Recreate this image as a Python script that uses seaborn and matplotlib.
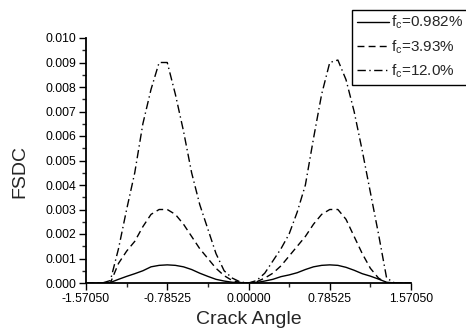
import numpy as np
import pandas as pd
import matplotlib
matplotlib.use("Agg")
import matplotlib.pyplot as plt
import seaborn as sns
from matplotlib.ticker import MultipleLocator

# crack angle grid (rad), step pi/40
angle = np.round(np.linspace(-1.5705, 1.5705, 41), 5)

fsdc_0982 = [0, 0, 0, 0.00002, 0.00015, 0.00027, 0.00038, 0.00050, 0.00066, 0.00072,
             0.00074, 0.00072, 0.00066, 0.00055, 0.00040, 0.00027, 0.00015, 0.00008, 0.00003, 0.00001,
             0,
             0.00002, 0.00008, 0.00015, 0.00026, 0.00033, 0.00042, 0.00055, 0.00066, 0.00072, 0.00074,
             0.00072, 0.00064, 0.00052, 0.00038, 0.00028, 0.00016, 0.00003, 0, 0, 0]
fsdc_393 = [0, 0, 0, 0, 0.0008, 0.0013, 0.0017, 0.0023, 0.0028, 0.0030,
            0.0030, 0.0028, 0.0024, 0.0019, 0.0014, 0.0010, 0.0006, 0.0003, 0.0001, 0.00002,
            0,
            0.00005, 0.0002, 0.0004, 0.0007, 0.0011, 0.0015, 0.0019, 0.0024, 0.0028, 0.0030,
            0.0030, 0.0026, 0.0019, 0.0012, 0.0006, 0.0002, 0, 0, 0, 0]
fsdc_120 = [0, 0, 0, 0.0001, 0.0014, 0.0030, 0.0045, 0.0065, 0.0079, 0.0090,
            0.0090, 0.0077, 0.0062, 0.0045, 0.0032, 0.0022, 0.0012, 0.0005, 0.0002, 0.00004,
            0,
            0.0001, 0.0004, 0.0009, 0.0014, 0.0020, 0.0029, 0.0040, 0.0059, 0.0077, 0.0090,
            0.0091, 0.0083, 0.0070, 0.0054, 0.0037, 0.0020, 0.0002, 0, 0, 0]

labels = [r"$\mathregular{f_c}$=0.982%", r"$\mathregular{f_c}$=3.93%", r"$\mathregular{f_c}$=12.0%"]
xticks = [-1.5705, -0.78525, 0.0, 0.78525, 1.5705]
xticklabels = ["-1.57050", "-0.78525", "0.00000", "0.78525", "1.57050"]
yticks = [0.000, 0.001, 0.002, 0.003, 0.004, 0.005, 0.006, 0.007, 0.008, 0.009, 0.010]

df = pd.DataFrame({
    "angle": np.concatenate([angle, angle, angle]),
    "fsdc": np.concatenate([fsdc_0982, fsdc_393, fsdc_120]),
    "series": [labels[0]] * 41 + [labels[1]] * 41 + [labels[2]] * 41,
})

sns.set_style("ticks")
plt.rcParams["font.family"] = ["Liberation Sans", "DejaVu Sans"]
plt.rcParams["mathtext.fontset"] = "custom"
plt.rcParams["mathtext.rm"] = "Liberation Sans"

fig = plt.figure(figsize=(4.66, 3.29), dpi=100)
ax = fig.add_axes([86 / 466, 1 - 283 / 329, 325 / 466, 245 / 329])

styles = ["-", (0, (5, 3)), (0, (6, 2.5, 1, 2.5))]
for lab, ls in zip(labels, styles):
    sub = df[df["series"] == lab]
    sns.lineplot(data=sub, x="angle", y="fsdc", ax=ax, color="black", lw=1.0,
                 linestyle=ls, label=lab, legend=False)

ax.set_xlim(-1.5705, 1.5705)
ax.set_ylim(0, 0.010)
ax.set_xticks(xticks)
ax.set_xticklabels(xticklabels)
ax.set_yticks(yticks)
ax.set_yticklabels([f"{v:.3f}" for v in yticks])
ax.xaxis.set_minor_locator(MultipleLocator(0.392625))
ax.yaxis.set_minor_locator(MultipleLocator(0.0005))
ax.tick_params(which="major", direction="out", length=5, width=1.0, labelsize=8.8, pad=2, colors="black")
ax.tick_params(which="minor", direction="out", length=3, width=1.0)
for s in ["top", "right"]:
    ax.spines[s].set_visible(False)
for s in ["left", "bottom"]:
    ax.spines[s].set_linewidth(1.3)
    ax.spines[s].set_color("black")

ax.set_xlabel("Crack Angle", fontsize=14)
ax.set_ylabel("FSDC", fontsize=14)
ax.xaxis.set_label_coords((249 - 86) / 325, -(320 - 283) / 245)
ax.yaxis.set_label_coords(-(86 - 20) / 325, (283 - 171) / 245)
ax.xaxis.label.set_va("center")
ax.yaxis.label.set_va("center")

h, l = ax.get_legend_handles_labels()
leg = fig.legend(h, l, loc="upper left", bbox_to_anchor=(352 / 466, 1 - 9.5 / 329),
                 bbox_transform=fig.transFigure, fontsize=11, frameon=True, fancybox=False,
                 edgecolor="black", handlelength=2.1, handletextpad=0.15, labelspacing=0.45,
                 borderpad=0.3, borderaxespad=0)
leg.get_frame().set_linewidth(1.0)
leg.get_frame().set_alpha(1)

fig.savefig("out.png", dpi=100)
